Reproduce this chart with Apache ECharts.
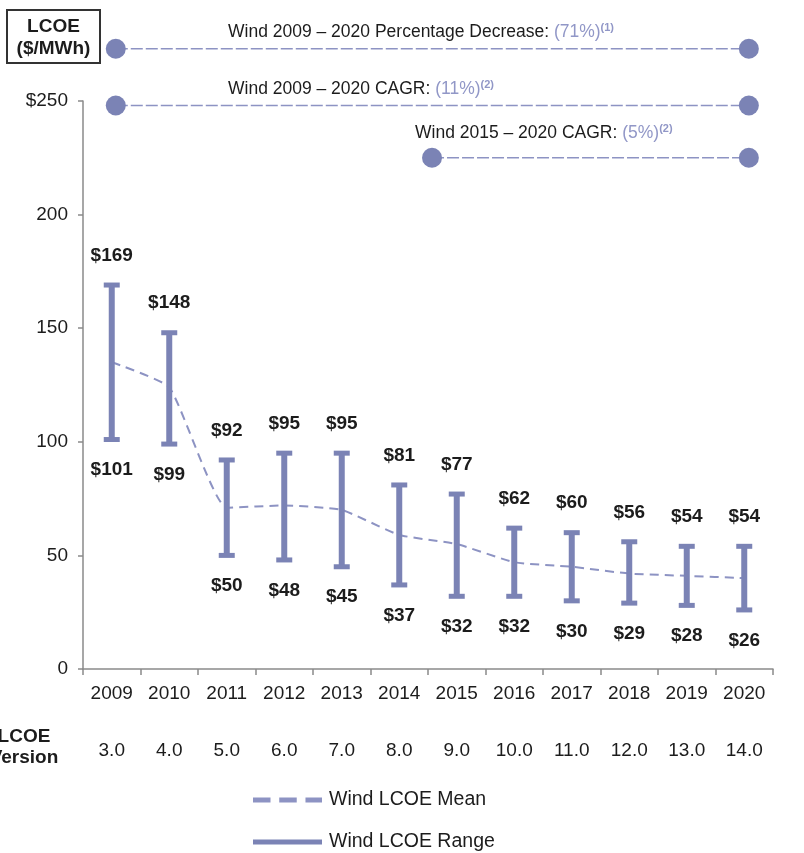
<!DOCTYPE html>
<html>
<head>
<meta charset="utf-8">
<script src="https://cdn.jsdelivr.net/npm/echarts@6.0.0/dist/echarts.min.js"></script>
<style>
  html, body { margin: 0; padding: 0; background: #ffffff; }
  #chart { width: 804px; height: 853px; }
</style>
</head>
<body>
<div id="chart"></div>
<script>
// Wind LCOE by year ($/MWh)
const years = ['2009', '2010', '2011', '2012', '2013', '2014', '2015', '2016', '2017', '2018', '2019', '2020'];
const versions = ['3.0', '4.0', '5.0', '6.0', '7.0', '8.0', '9.0', '10.0', '11.0', '12.0', '13.0', '14.0'];
const rangeHigh = [169, 148, 92, 95, 95, 81, 77, 62, 60, 56, 54, 54];
const rangeLow = [101, 99, 50, 48, 45, 37, 32, 32, 30, 29, 28, 26];
const meanValues = [135, 124, 71, 72, 70, 59, 55, 47, 45, 42, 41, 40];
const yAxisMax = 250;
const yAxisStep = 50;

// Summary brackets drawn above the plot: span on a 0..12 year scale, level in $/MWh
const summaries = [
  { text: 'Wind 2009 – 2020 Percentage Decrease: ', value: '(71%)', note: '(1)', span: [0.57, 11.58], level: 273 },
  { text: 'Wind 2009 – 2020 CAGR: ', value: '(11%)', note: '(2)', span: [0.57, 11.58], level: 248 },
  { text: 'Wind 2015 – 2020 CAGR: ', value: '(5%)', note: '(2)', span: [6.07, 11.58], level: 225 }
];
const summaryTextPos = [[228, 32], [228, 89], [415, 133]];

const FONT = '"Liberation Sans", Arial, sans-serif';
const INK = '#1c1c1c';
const BAR = '#7b83b5';
const DASH = '#8d93c3';
const ACCENT = '#9197c7';
const TICK_SIZE = 19;

const chart = echarts.init(document.getElementById('chart'), null, { renderer: 'canvas' });

function renderRange(params, api) {
  const i = api.value(0);
  const lo = api.value(1);
  const hi = api.value(2);
  const pHi = api.coord([i, hi]);
  const pLo = api.coord([i, lo]);
  const half = 8;
  const stroke = { stroke: BAR, lineWidth: 6 };
  const capStroke = { stroke: BAR, lineWidth: 5 };
  return {
    type: 'group',
    children: [
      { type: 'line', shape: { x1: pHi[0], y1: pHi[1], x2: pLo[0], y2: pLo[1] }, style: stroke },
      { type: 'line', shape: { x1: pHi[0] - half, y1: pHi[1], x2: pHi[0] + half, y2: pHi[1] }, style: capStroke },
      { type: 'line', shape: { x1: pLo[0] - half, y1: pLo[1], x2: pLo[0] + half, y2: pLo[1] }, style: capStroke },
      {
        type: 'text', x: pHi[0], y: pHi[1] - 20,
        style: { text: '$' + hi, textAlign: 'center', textVerticalAlign: 'bottom', font: 'bold 19px ' + FONT, fill: INK }
      },
      {
        type: 'text', x: pLo[0], y: pLo[1] + 21,
        style: { text: '$' + lo, textAlign: 'center', textVerticalAlign: 'top', font: 'bold 19px ' + FONT, fill: INK }
      }
    ]
  };
}

const summarySeries = summaries.map((s, k) => ({
  name: 'summary' + k,
  type: 'line',
  xAxisIndex: 2,
  yAxisIndex: 0,
  clip: false,
  silent: true,
  symbol: 'circle',
  symbolSize: 20,
  showSymbol: true,
  itemStyle: { color: BAR },
  lineStyle: { color: DASH, width: 1.5, type: [12, 3] },
  data: [[s.span[0], s.level], [s.span[1], s.level]],
  z: 5
}));

const summaryTexts = summaries.map((s, k) => ({
  type: 'text',
  left: summaryTextPos[k][0],
  top: summaryTextPos[k][1] - 10,
  style: {
    text: '{a|' + s.text + '}{b|' + s.value + '}{c|' + s.note + '}',
    rich: {
      a: { fontFamily: FONT, fontSize: 17.5, fill: INK, lineHeight: 20 },
      b: { fontFamily: FONT, fontSize: 17.5, fill: ACCENT, lineHeight: 20 },
      c: { fontFamily: FONT, fontSize: 11, fontWeight: 'bold', fill: ACCENT, verticalAlign: 'top', lineHeight: 20, padding: [0, 0, 8, 0] }
    }
  }
}));

const legendBase = {
  orient: 'horizontal',
  left: 253,
  padding: 0,
  itemWidth: 69,
  itemHeight: 5,
  itemGap: 10,
  selectedMode: false,
  textStyle: { color: INK, fontFamily: FONT, fontSize: 19.5, padding: [0, 0, 0, 2] }
};

const option = {
  backgroundColor: '#ffffff',
  animation: false,
  grid: { left: 83, right: 31, top: 101, bottom: 184, containLabel: false },
  xAxis: [
    {
      type: 'category',
      data: years,
      boundaryGap: true,
      axisLine: { show: true, lineStyle: { color: '#8a8a8a', width: 1.5 } },
      axisTick: { show: true, length: 6, lineStyle: { color: '#8a8a8a', width: 1.5 } },
      axisLabel: { color: INK, fontFamily: FONT, fontSize: TICK_SIZE, margin: 15 },
      splitLine: { show: false }
    },
    {
      type: 'category',
      data: versions,
      position: 'bottom',
      offset: 57,
      axisLine: { show: false },
      axisTick: { show: false },
      axisLabel: { color: INK, fontFamily: FONT, fontSize: TICK_SIZE, margin: 15 },
      splitLine: { show: false }
    },
    { type: 'value', min: 0, max: 12, show: false }
  ],
  yAxis: {
    type: 'value',
    min: 0,
    max: yAxisMax,
    interval: yAxisStep,
    axisLine: { show: true, lineStyle: { color: '#8a8a8a', width: 1.5 } },
    axisTick: { show: true, length: 5, lineStyle: { color: '#8a8a8a', width: 1.5 } },
    axisLabel: {
      color: INK, fontFamily: FONT, fontSize: TICK_SIZE, margin: 15,
      formatter: v => (v === yAxisMax ? '$' + v : String(v))
    },
    splitLine: { show: false }
  },
  legend: [
    Object.assign({}, legendBase, {
      top: 790,
      data: [{
        name: 'Wind LCOE Mean',
        icon: 'path://M0,0h18v5h-18z M27,0h18v5h-18z M54,0h17v5h-17z',
        itemStyle: { color: DASH }
      }]
    }),
    Object.assign({}, legendBase, {
      top: 832,
      data: [{ name: 'Wind LCOE Range', icon: 'rect', itemStyle: { color: BAR } }]
    })
  ],
  graphic: [
    {
      type: 'rect',
      shape: { x: 7, y: 10, width: 93, height: 53 },
      style: { fill: '#ffffff', stroke: '#333333', lineWidth: 2 }
    },
    {
      type: 'text', x: 53.5, y: 27,
      style: { text: 'LCOE', textAlign: 'center', textVerticalAlign: 'middle', font: 'bold 19px ' + FONT, fill: INK }
    },
    {
      type: 'text', x: 53.5, y: 49,
      style: { text: '($/MWh)', textAlign: 'center', textVerticalAlign: 'middle', font: 'bold 19px ' + FONT, fill: INK }
    },
    {
      type: 'text', x: 24, y: 747,
      style: { text: 'LCOE\nVersion', textAlign: 'center', textVerticalAlign: 'middle', font: 'bold 19px ' + FONT, fill: INK, lineHeight: 21 }
    }
  ].concat(summaryTexts),
  series: [
    {
      name: 'Wind LCOE Mean',
      type: 'line',
      data: meanValues,
      symbol: 'none',
      smooth: 0.15,
      lineStyle: { color: DASH, width: 2, type: [9, 6] },
      itemStyle: { color: DASH },
      z: 3
    },
    {
      name: 'Wind LCOE Range',
      type: 'custom',
      data: years.map((y, i) => [i, rangeLow[i], rangeHigh[i]]),
      encode: { x: 0, y: [1, 2] },
      renderItem: renderRange,
      itemStyle: { color: BAR },
      z: 4
    }
  ].concat(summarySeries)
};

chart.setOption(option);
</script>
</body>
</html>
